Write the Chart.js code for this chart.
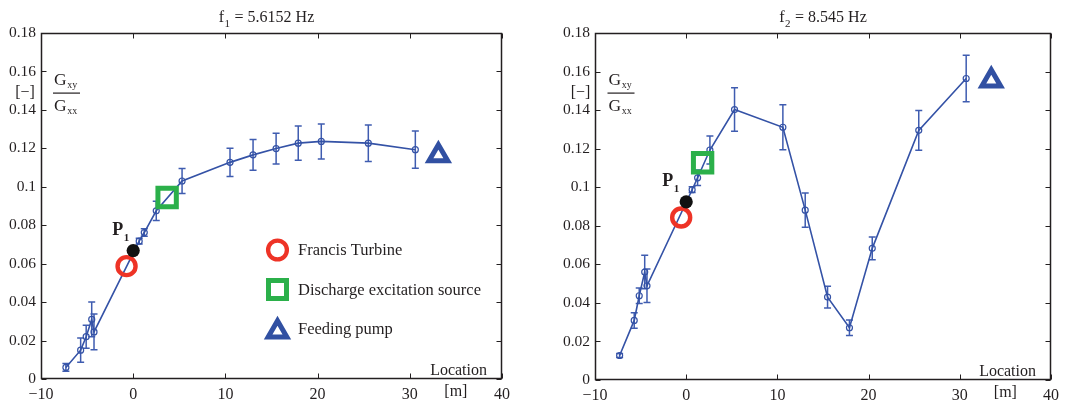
<!DOCTYPE html>
<html>
<head>
<meta charset="utf-8">
<script src="https://cdn.jsdelivr.net/npm/chart.js@4/dist/chart.umd.min.js"></script>
<style>
  html, body { margin: 0; padding: 0; background: #fff; }
  #wrap { position: relative; width: 1086px; height: 405px; }
  canvas { position: absolute; top: 0; }
  #c1 { left: 0; }
  #c2 { left: 540px; }
</style>
</head>
<body>
<div id="wrap">
  <canvas id="c1" width="540" height="405"></canvas>
  <canvas id="c2" width="546" height="405"></canvas>
</div>
<script>
// measurement locations along the pipe [m]
const loc1 = [-7.3, -5.7, -5.1, -4.5, -4.25, 0.65, 1.2, 2.5, 5.3, 10.5, 13.0, 15.5, 17.9, 20.4, 25.5, 30.6];
const ratio1 = [0.006, 0.015, 0.022, 0.031, 0.0245, 0.0717, 0.0762, 0.0875, 0.103, 0.1127, 0.1166, 0.1199, 0.1227, 0.1236, 0.1227, 0.1193];
const err1 = [0.002, 0.0063, 0.006, 0.009, 0.0093, 0.0015, 0.002, 0.005, 0.0065, 0.0073, 0.008, 0.008, 0.0089, 0.0091, 0.0095, 0.0097];

const loc2 = [-7.3, -5.7, -5.15, -4.55, -4.3, 0.65, 1.25, 2.6, 5.3, 10.6, 13.05, 15.5, 17.9, 20.4, 25.5, 30.7];
const ratio2 = [0.0127, 0.0309, 0.0437, 0.056, 0.0489, 0.0987, 0.1049, 0.1193, 0.1403, 0.1311, 0.0881, 0.043, 0.0271, 0.0683, 0.1295, 0.1564];
const err2 = [0.001, 0.004, 0.004, 0.0087, 0.0087, 0.0015, 0.004, 0.0073, 0.0113, 0.0117, 0.0089, 0.0056, 0.004, 0.0059, 0.0103, 0.0121];

// component positions [m, -]
const turbine1 = { x: -0.72, y: 0.0587 };
const sensorP1_1 = { x: 0, y: 0.0668 };
const source1 = { x: 3.68, y: 0.0944 };
const pump1 = { x: 33.1, y: 0.1163 };

const turbine2 = { x: -0.55, y: 0.0843 };
const sensorP1_2 = { x: 0, y: 0.0924 };
const source2 = { x: 1.8, y: 0.1127 };
const pump2 = { x: 33.45, y: 0.1553 };

const xTicks = [-10, 0, 10, 20, 30, 40];
const yTicks = [0, 0.02, 0.04, 0.06, 0.08, 0.1, 0.12, 0.14, 0.16, 0.18];
const legendLabels = ['Francis Turbine', 'Discharge excitation source', 'Feeding pump'];

const SERIF = "'Liberation Serif', 'Times New Roman', serif";
const INK = '#231f20';
const BLUE = '#3452a6';
const ERR_BLUE = '#3f5cb0';
const RED = '#ee3326';
const GREEN = '#2bb04a';
const PUMP_BLUE = '#3150a2';

const errorBars = {
  id: 'errorBars',
  beforeDatasetsDraw(chart, args, opts) {
    const { ctx, scales: { x, y } } = chart;
    const pts = chart.data.datasets[0].data;
    ctx.save();
    ctx.strokeStyle = ERR_BLUE;
    ctx.lineWidth = 1.5;
    pts.forEach((p, i) => {
      const e = opts.err[i];
      const px = x.getPixelForValue(p.x);
      const top = y.getPixelForValue(p.y + e);
      const bot = y.getPixelForValue(p.y - e);
      ctx.beginPath();
      ctx.moveTo(px, top); ctx.lineTo(px, bot);
      ctx.moveTo(px - 3.5, top); ctx.lineTo(px + 3.5, top);
      ctx.moveTo(px - 3.5, bot); ctx.lineTo(px + 3.5, bot);
      ctx.stroke();
    });
    ctx.restore();
  }
};

// box around the axes with inward ticks on all four sides
const frame = {
  id: 'frame',
  afterDraw(chart) {
    const { ctx, chartArea: a, scales: { x, y } } = chart;
    const L = Math.round(a.left) + 0.5, R = Math.round(a.right) - 0.5;
    const T = Math.round(a.top) + 0.5, B = Math.round(a.bottom) - 0.5;
    ctx.save();
    ctx.strokeStyle = INK;
    ctx.lineWidth = 1.5;
    ctx.strokeRect(L, T, R - L, B - T);
    ctx.lineWidth = 1;
    ctx.beginPath();
    y.ticks.forEach(t => {
      const py = Math.round(y.getPixelForValue(t.value)) + 0.5;
      ctx.moveTo(L, py); ctx.lineTo(L + 5, py);
      ctx.moveTo(R, py); ctx.lineTo(R - 5, py);
    });
    x.ticks.forEach(t => {
      const px = Math.round(x.getPixelForValue(t.value)) + 0.5;
      ctx.moveTo(px, B); ctx.lineTo(px, B - 5);
      ctx.moveTo(px, T); ctx.lineTo(px, T + 5);
    });
    ctx.stroke();
    ctx.restore();
  }
};

function subText(ctx, base, sub, x, y, size, subSize, drop, bold) {
  const w = bold ? 'bold ' : '';
  ctx.font = w + size + 'px ' + SERIF;
  ctx.textAlign = 'left';
  ctx.textBaseline = 'alphabetic';
  ctx.fillText(base, x, y);
  const bw = ctx.measureText(base).width;
  ctx.font = w + subSize + 'px ' + SERIF;
  ctx.fillText(sub, x + bw + 0.5, y + drop);
  return bw + 0.5 + ctx.measureText(sub).width;
}

const annotations = {
  id: 'annotations',
  afterDraw(chart, args, o) {
    const { ctx, chartArea: a, scales: { x, y } } = chart;
    ctx.save();
    ctx.fillStyle = INK;

    // title: f_n = ... Hz
    ctx.font = '16px ' + SERIF;
    const w1 = ctx.measureText('f').width;
    ctx.font = '11px ' + SERIF;
    const w2 = ctx.measureText(o.sub).width;
    ctx.font = '16px ' + SERIF;
    const w3 = ctx.measureText(o.rest).width;
    let tx = (a.left + a.right) / 2 - (w1 + w2 + w3 + 1) / 2 + o.titleShift;
    subText(ctx, 'f', o.sub, tx, 22, 16, 11, 5, false);
    ctx.font = '16px ' + SERIF;
    ctx.fillText(o.rest, tx + w1 + w2 + 1, 22);

    // y label: [-] and Gxy / Gxx
    ctx.font = '16px ' + SERIF;
    ctx.textAlign = 'center';
    ctx.fillText('[\u2212]', a.left + o.unitDx, a.top + 64);
    const fx = a.left + o.fracDx;
    const fy = a.top + 59.5;
    ctx.fillRect(fx - 13, fy, 27, 1.2);
    subText(ctx, 'G', 'xy', fx - 12, fy - 8, 17.5, 10, 3, false);
    subText(ctx, 'G', 'xx', fx - 12, fy + 18, 17.5, 10, 3, false);

    // P1 tag at the sensor
    const sx = x.getPixelForValue(o.p1.x), sy = y.getPixelForValue(o.p1.y);
    subText(ctx, 'P', '1', sx - o.p1Dx, sy - 16, 18, 11, 6, true);

    // axis name inside the box and unit under the axis
    ctx.font = '16px ' + SERIF;
    ctx.textAlign = 'right';
    ctx.fillText('Location', a.right - 15, a.bottom - 4);
    ctx.textAlign = 'center';
    ctx.fillText('[m]', x.getPixelForValue(35), a.bottom + 17);

    if (o.legend) {
      const lx = 277.5, rows = [250, 289.5, 329];
      ctx.lineWidth = 4.3;
      ctx.strokeStyle = RED;
      ctx.beginPath(); ctx.arc(lx, rows[0], 9.4, 0, Math.PI * 2); ctx.stroke();
      ctx.lineWidth = 5;
      ctx.strokeStyle = GREEN;
      ctx.strokeRect(lx - 9, rows[1] - 9, 18, 18);
      ctx.lineWidth = 5;
      ctx.strokeStyle = PUMP_BLUE;
      const r = 10.8, cy = rows[2] + 2.5;
      ctx.beginPath();
      ctx.moveTo(lx, cy - r);
      ctx.lineTo(lx + r * 0.866, cy + r / 2);
      ctx.lineTo(lx - r * 0.866, cy + r / 2);
      ctx.closePath(); ctx.stroke();
      ctx.fillStyle = INK;
      ctx.font = '16.5px ' + SERIF;
      ctx.textAlign = 'left';
      ctx.textBaseline = 'middle';
      legendLabels.forEach((t, i) => ctx.fillText(t, 298, rows[i] + 1));
    }
    ctx.restore();
  }
};

function makeChart(id, cfg) {
  const pts = cfg.loc.map((v, i) => ({ x: v, y: cfg.ratio[i] }));
  return new Chart(document.getElementById(id), {
    type: 'scatter',
    data: {
      datasets: [
        {
          data: pts, showLine: true, order: 5,
          borderColor: BLUE, borderWidth: 1.6,
          pointStyle: 'circle', pointRadius: 3, pointBorderWidth: 1.2,
          pointBackgroundColor: 'rgba(0,0,0,0)', pointBorderColor: BLUE
        },
        {
          data: [cfg.turbine], order: 2, pointStyle: 'circle', pointRadius: 9,
          pointBorderWidth: 4.4, pointBorderColor: RED, pointBackgroundColor: 'rgba(0,0,0,0)'
        },
        {
          data: [cfg.p1], order: 1, pointStyle: 'circle', pointRadius: 6.6,
          pointBorderWidth: 0, pointBackgroundColor: '#111'
        },
        {
          data: [cfg.source], order: 2, pointStyle: 'rect', pointRadius: 13,
          pointBorderWidth: 5, pointBorderColor: GREEN, pointBackgroundColor: 'rgba(0,0,0,0)'
        },
        {
          data: [cfg.pump], order: 2, pointStyle: 'triangle', pointRadius: 10.8,
          pointBorderWidth: 5, pointBorderColor: PUMP_BLUE, pointBackgroundColor: 'rgba(0,0,0,0)'
        }
      ]
    },
    options: {
      responsive: false,
      animation: false,
      events: [],
      layout: { padding: { top: cfg.top, right: cfg.right, left: 0, bottom: 0 } },
      scales: {
        x: {
          type: 'linear', min: -10, max: 40,
          afterBuildTicks: s => { s.ticks = xTicks.map(v => ({ value: v })); },
          afterFit: s => { s.height = cfg.xH; },
          grid: { display: false, drawTicks: false },
          border: { display: false },
          ticks: {
            maxRotation: 0, autoSkip: false, padding: 6, color: INK,
            font: { family: SERIF, size: 16 },
            callback: v => v < 0 ? '\u2212' + Math.abs(v) : String(v)
          }
        },
        y: {
          type: 'linear', min: 0, max: 0.18,
          afterBuildTicks: s => { s.ticks = yTicks.map(v => ({ value: v })); },
          afterFit: s => { s.width = cfg.yW; },
          grid: { display: false, drawTicks: false },
          border: { display: false },
          ticks: {
            padding: 5, color: INK,
            font: { family: SERIF, size: 15.5 },
            callback: v => String(+v.toFixed(2))
          }
        }
      },
      plugins: {
        legend: { display: false },
        tooltip: { enabled: false },
        errorBars: { err: cfg.err },
        annotations: {
          sub: cfg.sub, rest: cfg.rest, titleShift: cfg.titleShift,
          unitDx: cfg.unitDx, fracDx: cfg.fracDx,
          p1: cfg.p1, p1Dx: cfg.p1Dx, legend: cfg.legend
        }
      }
    },
    plugins: [errorBars, frame, annotations]
  });
}

makeChart('c1', {
  loc: loc1, ratio: ratio1, err: err1,
  turbine: turbine1, p1: sensorP1_1, source: source1, pump: pump1,
  top: 33, right: 38, xH: 26, yW: 41,
  sub: '1', rest: ' = 5.6152 Hz', titleShift: -5,
  unitDx: -16, fracDx: 25, p1Dx: 21, legend: true
});

makeChart('c2', {
  loc: loc2, ratio: ratio2, err: err2,
  turbine: turbine2, p1: sensorP1_2, source: source2, pump: pump2,
  top: 33, right: 35, xH: 25, yW: 55,
  sub: '2', rest: ' = 8.545 Hz', titleShift: 0,
  unitDx: -14.5, fracDx: 25.5, p1Dx: 24, legend: false
});
</script>
</body>
</html>
